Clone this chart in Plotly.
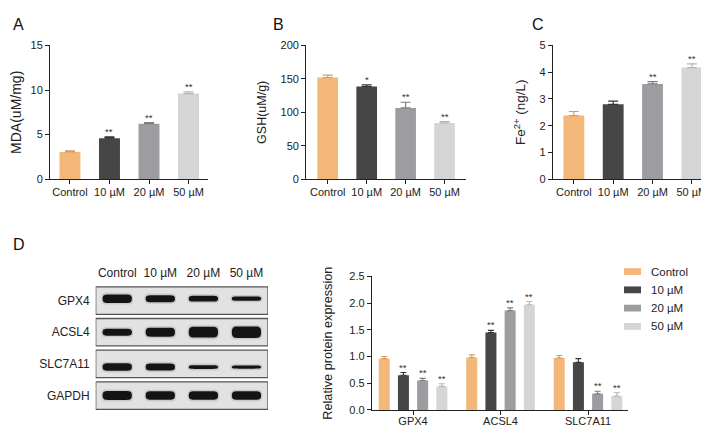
import plotly.graph_objects as go

W, H = 709, 428

# ---------------- data ----------------
groups = ["Control", "10 µM", "20 µM", "50 µM"]
group_colors = ["#F3B77A", "#464646", "#9D9DA1", "#D5D5D5"]
err_colors = ["#D99A5C", "#333333", "#7E7E82", "#B5B5B5"]

mda = [3.05, 4.6, 6.23, 9.6]
mda_err = [0.12, 0.15, 0.12, 0.2]
mda_sig = ["", "**", "**", "**"]

gsh = [152, 138.7, 106.5, 84]
gsh_err = [3.5, 2.5, 8.5, 2]
gsh_sig = ["", "*", "**", "**"]

fe = [2.38, 2.8, 3.56, 4.17]
fe_err = [0.15, 0.12, 0.09, 0.14]
fe_sig = ["", "", "**", "**"]

proteins = ["GPX4", "ACSL4", "SLC7A11"]
rel_control = [0.96, 0.98, 0.97]
rel_10 = [0.65, 1.45, 0.89]
rel_20 = [0.55, 1.86, 0.30]
rel_50 = [0.44, 1.97, 0.26]
rel_control_err = [0.04, 0.05, 0.05]
rel_10_err = [0.05, 0.04, 0.07]
rel_20_err = [0.04, 0.05, 0.05]
rel_50_err = [0.05, 0.06, 0.06]
rel_control_sig = ["", "", ""]
rel_10_sig = ["**", "**", ""]
rel_20_sig = ["**", "**", "**"]
rel_50_sig = ["**", "**", "**"]

blot_rows = ["GPX4", "ACSL4", "SLC7A11", "GAPDH"]
band_gpx4 = [0.27, 0.22, 0.18, 0.13]
band_acsl4 = [0.22, 0.28, 0.34, 0.36]
band_slc7a11 = [0.24, 0.22, 0.12, 0.10]
band_gapdh = [0.28, 0.27, 0.27, 0.27]

# ---------------- helpers ----------------
def fx(px):
    return px / W

def fy(py):
    return 1 - py / H

FONT = "Liberation Sans, Arial, sans-serif"
AX = "#222222"

fig = go.Figure()
annotations = []
shapes = []

def axis_common():
    return dict(showline=True, linecolor=AX, linewidth=1.3, ticks="outside",
                ticklen=4, tickwidth=1.3, tickcolor=AX, showgrid=False,
                zeroline=False, tickfont=dict(size=11, color=AX, family=FONT))

def simple_panel(idx, vals, errs, sigs, xdom, ydom, xr, yr, dtick, title, tsize, standoff):
    xa = "x" if idx == 1 else f"x{idx}"
    ya = "y" if idx == 1 else f"y{idx}"
    for i, g in enumerate(groups):
        fig.add_trace(go.Bar(
            x=[i], y=[vals[i]], width=0.53, xaxis=xa, yaxis=ya,
            marker=dict(color=group_colors[i], line=dict(width=0)),
            error_y=dict(type="data", symmetric=False, array=[errs[i]], arrayminus=[0],
                         color=err_colors[i], thickness=1.2, width=5),
            showlegend=False, hoverinfo="skip"))
        if sigs[i]:
            annotations.append(dict(x=i, y=vals[i] + errs[i], xref=xa, yref=ya,
                                    text=sigs[i], showarrow=False, yanchor="bottom",
                                    yshift=-2, font=dict(size=9.5, color="#333", family=FONT)))
    key = "xaxis" if idx == 1 else f"xaxis{idx}"
    ykey = "yaxis" if idx == 1 else f"yaxis{idx}"
    fig.layout[key] = dict(domain=xdom, range=xr, anchor=ya, tickvals=list(range(len(groups))),
                           ticktext=groups, ticklabelstandoff=-2, **axis_common())
    fig.layout[ykey] = dict(domain=ydom, range=yr, anchor=xa, dtick=dtick,
                            title=dict(text=title, font=dict(size=tsize, color=AX, family=FONT),
                                       standoff=standoff),
                            **axis_common())

ydomABC = [fy(170), fy(32.3)]
simple_panel(1, mda, mda_err, mda_sig, [fx(42.2), fx(200.3)], ydomABC, [-0.5, 3.5], [0, 15], 5,
             "MDA(uM/mg)", 14, 11)
simple_panel(2, gsh, gsh_err, gsh_sig, [fx(298.3), fx(458)], ydomABC, [-0.55, 3.55], [0, 200], 50,
             "GSH(uM/g)", 12.5, 11)
simple_panel(3, fe, fe_err, fe_sig, [fx(545), fx(706.7)], ydomABC, [-0.53, 3.58], [0, 5], 1,
             "Fe<sup>2+</sup> (ng/L)", 13.5, 10)

# ---------------- panel D grouped bars ----------------
rel_vals = [rel_control, rel_10, rel_20, rel_50]
rel_errs = [rel_control_err, rel_10_err, rel_20_err, rel_50_err]
rel_sigs = [rel_control_sig, rel_10_sig, rel_20_sig, rel_50_sig]
slot = 0.2194
bw = 0.1257
for gi, g in enumerate(groups):
    center = (gi - 1.5) * slot
    fig.add_trace(go.Bar(
        x=list(range(len(proteins))), y=rel_vals[gi], xaxis="x4", yaxis="y4",
        width=bw, offset=center - bw / 2, name=g,
        marker=dict(color=group_colors[gi], line=dict(width=0)),
        error_y=dict(type="data", symmetric=False, array=rel_errs[gi],
                     arrayminus=[0] * len(proteins), color=err_colors[gi], thickness=1.1, width=3),
        showlegend=False, hoverinfo="skip"))
    for pi in range(len(proteins)):
        if rel_sigs[gi][pi]:
            annotations.append(dict(x=pi + center, y=rel_vals[gi][pi] + rel_errs[gi][pi],
                                    xref="x4", yref="y4", text=rel_sigs[gi][pi], showarrow=False,
                                    yanchor="bottom", yshift=-2,
                                    font=dict(size=9.5, color="#333", family=FONT)))

fig.layout["xaxis4"] = dict(domain=[fx(364), fx(620)], range=[-0.469, 2.457], anchor="y4",
                            tickvals=list(range(len(proteins))), ticktext=proteins,
                            ticklabelstandoff=-3, **axis_common())
fig.layout["yaxis4"] = dict(domain=[fy(407.3), fy(270)], range=[0, 2.5], anchor="x4", dtick=0.5,
                            tickformat=".1f",
                            title=dict(text="Relative protein expression",
                                       font=dict(size=12.7, color=AX, family=FONT), standoff=13),
                            **axis_common())

# legend (manual)
for gi, g in enumerate(groups):
    cy = 265 + gi * 18.8
    shapes.append(dict(type="rect", xref="paper", yref="paper", x0=fx(616), x1=fx(633),
                       y0=fy(cy + 3.5), y1=fy(cy - 3.5), fillcolor=group_colors[gi],
                       line=dict(width=0)))
    annotations.append(dict(x=fx(641), y=fy(cy), xref="paper", yref="paper", text=g,
                            showarrow=False, xanchor="left", yanchor="middle",
                            font=dict(size=11.5, color=AX, family=FONT)))

# ---------------- western blot ----------------
fig.add_trace(go.Scatter(x=[0, 4], y=[0, 4], xaxis="x5", yaxis="y5", mode="markers",
                         marker=dict(opacity=0), showlegend=False, hoverinfo="skip"))
fig.layout["xaxis5"] = dict(domain=[fx(87.7), fx(260)], range=[0, 4], anchor="y5", side="top",
                            tickvals=[i + 0.5 for i in range(len(groups))], ticktext=groups,
                            showline=False, showgrid=False, zeroline=False, ticks="",
                            ticklabelstandoff=4,
                            tickfont=dict(size=12, color=AX, family=FONT))
fig.layout["yaxis5"] = dict(domain=[fy(408.85), fy(278.55)], range=[4, 0], anchor="x5",
                            tickvals=[i + 0.5 for i in range(len(blot_rows))], ticktext=blot_rows,
                            showline=False, showgrid=False, zeroline=False, ticks="",
                            ticklabelstandoff=5,
                            tickfont=dict(size=12, color=AX, family=FONT))

band_data = [band_gpx4, band_acsl4, band_slc7a11, band_gapdh]
row_shift = [-0.06, 0.0, 0.1, 0.0]

def band_path(cx, cy, hw, t):
    x0, x1 = cx - hw, cx + hw
    y0, y1 = cy - t / 2, cy + t / 2
    a, b = 0.16, 0.06
    return (f"M{x0},{cy} C{x0},{y0} {x0+b},{y0} {x0+a},{y0} L{x1-a},{y0} "
            f"C{x1-b},{y0} {x1},{y0} {x1},{cy} C{x1},{y1} {x1-b},{y1} {x1-a},{y1} "
            f"L{x0+a},{y1} C{x0+b},{y1} {x0},{y1} {x0},{cy} Z")

for r in range(len(blot_rows)):
    shapes.append(dict(type="rect", xref="x5", yref="y5", x0=0, x1=4, y0=r + 0.066, y1=r + 0.934,
                       fillcolor="#E2E2E2", line=dict(color="#555555", width=1.3), layer="below"))
    for c in range(len(groups)):
        t = band_data[r][c]
        cx = c + 0.5
        cy = r + 0.5 + row_shift[r]
        shapes.append(dict(type="path", xref="x5", yref="y5", path=band_path(cx, cy, 0.37, t + 0.1),
                           fillcolor="#8A8A8A", opacity=0.3, line=dict(width=0)))
        shapes.append(dict(type="path", xref="x5", yref="y5", path=band_path(cx, cy, 0.34, t),
                           fillcolor="#141414", opacity=1.0, line=dict(width=0)))

# panel letters
for lab, px, py in [("A", 3, 11), ("B", 263, 11), ("C", 522, 11), ("D", 3, 237)]:
    annotations.append(dict(x=fx(px), y=fy(py), xref="paper", yref="paper", text=lab,
                            showarrow=False, xanchor="left", yanchor="middle",
                            font=dict(size=16, color="#111", family=FONT)))

fig.update_layout(width=W, height=H, margin=dict(l=0, r=0, t=0, b=0), autosize=False,
                  paper_bgcolor="white", plot_bgcolor="rgba(0,0,0,0)", barmode="overlay",
                  annotations=annotations, shapes=shapes, showlegend=False,
                  font=dict(family=FONT, color=AX))

fig.write_html("out.html")
